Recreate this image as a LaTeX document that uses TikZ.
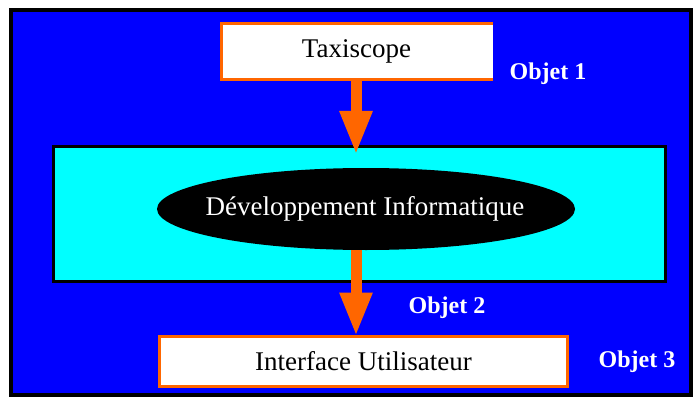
\documentclass[tikz,border=0pt]{standalone}
\usepackage{fontspec}
\setmainfont{Liberation Serif}
\usetikzlibrary{arrows.meta,shapes.geometric}
\definecolor{bgblue}{HTML}{0000FF}
\definecolor{lcyan}{HTML}{00FFFF}
\definecolor{arrorange}{HTML}{FF6600}
\begin{document}
\begin{tikzpicture}[x=1pt,y=-1pt,
  boxfont/.style={font=\fontsize{27}{30}\selectfont},
  whitebox/.style={draw=arrorange, line width=3pt, fill=white, inner sep=0pt, boxfont},
  objlabel/.style={text=white, anchor=base, font=\fontsize{24}{26}\selectfont\bfseries},
  bigarrow/.style={draw=arrorange, line width=11pt,
    -{Triangle[length=44pt,width=30pt,fill=arrorange]}}]
\useasboundingbox (0,0) rectangle (695,409);
\fill[white] (0,0) rectangle (695,409);
\draw[line width=4pt, fill=bgblue] (10.5,10.5) rectangle (691,394.5);
\node[draw=black, line width=3pt, fill=lcyan, minimum width=612pt, minimum height=135pt,
  inner sep=0pt] (dev box) at (359.5,214) {};
\node[ellipse, fill=black, minimum width=418pt, minimum height=82pt, inner sep=0pt] (dev) at (366,209) {};
\node[text=white, boxfont, inner sep=0pt] (dev text) at (365,209) {Développement Informatique};
\node[fill=white, minimum width=273pt, minimum height=53pt, inner sep=0pt, boxfont] (taxi) at (356.5,51.5) {Taxiscope};
\draw[arrorange, line width=3pt] ([yshift=1.5pt]taxi.north east) -- ([xshift=1.5pt,yshift=1.5pt]taxi.north west)
  -- ([xshift=1.5pt,yshift=-1.5pt]taxi.south west) -- ([yshift=-1.5pt]taxi.south east);
\node[whitebox, minimum width=408pt, minimum height=50pt] (iface) at (363.5,361.5) {Interface Utilisateur};
\coordinate (tip1) at (356,155);
\draw[bigarrow] (taxi.south -| tip1) -- (tip1);
\draw[bigarrow] (dev.south -| tip1) -- ([yshift=-1.5pt]iface.north -| tip1);
\node[objlabel] (o1) at (548,80) {Objet 1};
\node[objlabel] (o2) at (447,313) {Objet 2};
\node[objlabel] (o3) at (637,367) {Objet 3};
\end{tikzpicture}
\end{document}
